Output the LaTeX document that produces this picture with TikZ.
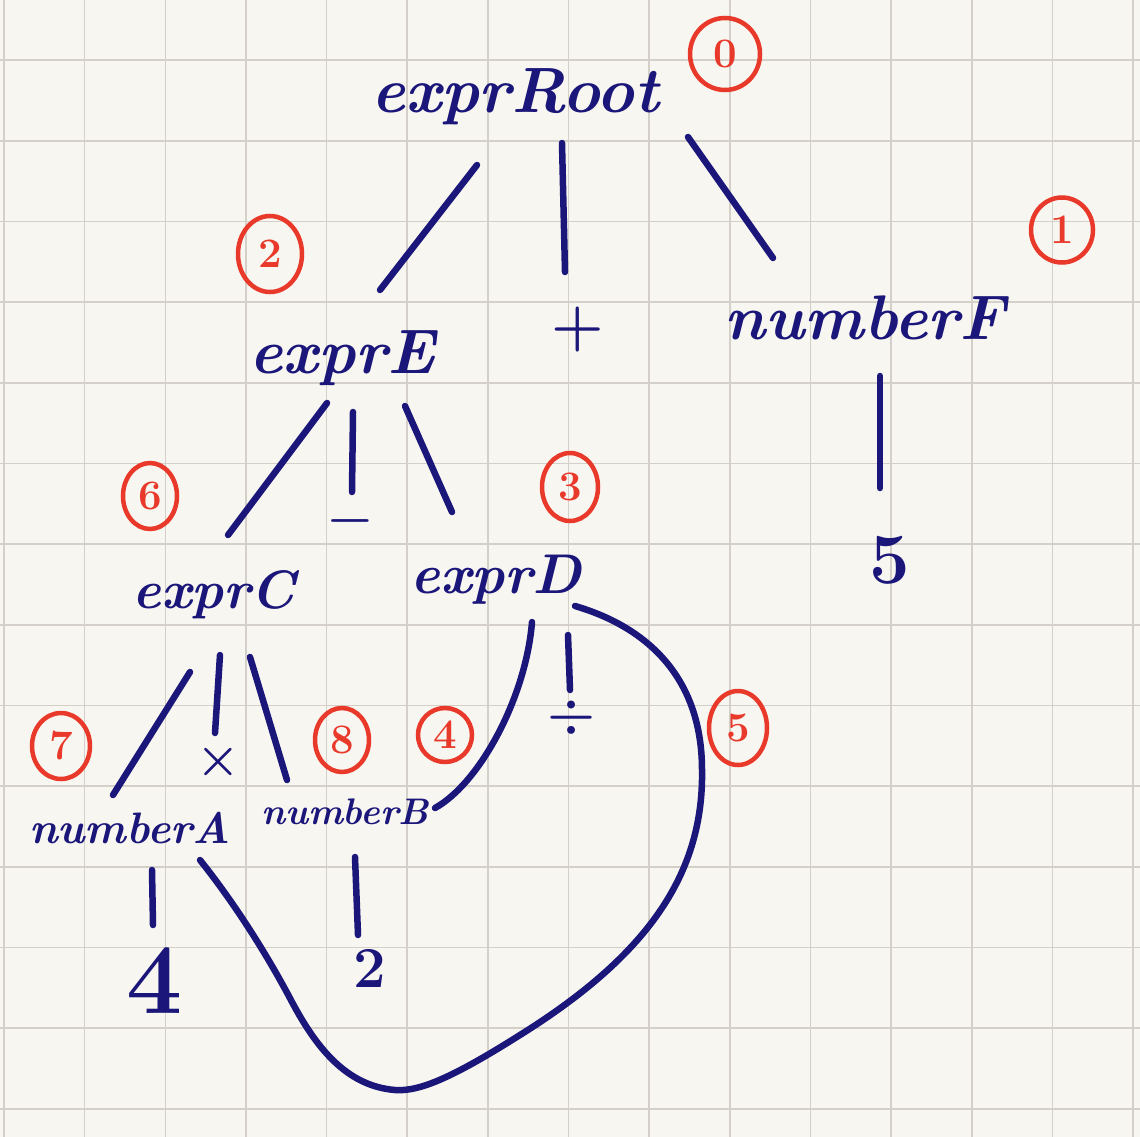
\documentclass[tikz,border=0pt]{standalone}
\usepackage{fontspec}
\usetikzlibrary{calc,shapes.geometric}
\definecolor{paper}{HTML}{F8F6F1}
\definecolor{gridc}{HTML}{D4D0C9}
\definecolor{ink}{HTML}{1B1679}
\definecolor{mark}{HTML}{E8392A}
\newcommand{\fsz}[1]{\fontsize{#1}{#1}\selectfont}
\tikzset{
  lbl/.style={text=ink, inner sep=0pt},
  stroke/.style={draw=ink, line width=6.5pt, line cap=round},
  bigloop/.style={draw=ink, line width=6.5pt, line cap=round, line join=round},
  badge/.style={ellipse, draw=mark, text=mark, line width=4.5pt, inner sep=0pt, font=\bfseries\fsz{42}},
  gridline/.style={draw=gridc, line width=1.6pt}
}
\begin{document}
\begin{tikzpicture}[x=1pt,y=-1pt]
\fill[paper] (0,0) rectangle (1140,1137);
\useasboundingbox (0,0) rectangle (1140,1137);
\foreach \i in {0,...,14} { \draw[gridline] ({4+80.65*\i},0) -- ({4+80.65*\i},1137); }
\foreach \j in {0,...,13} { \draw[gridline] (0,{60.3+80.65*\j}) -- (1140,{60.3+80.65*\j}); }

% labels
\node[lbl, font=\bfseries\itshape\fsz{64}] (root) at (515,97) {exprRoot};
\node[lbl, font=\bfseries\itshape\fsz{63}] (E) at (342,358) {exprE};
\node[lbl, font=\bfseries\fsz{60}] (plus) at (578,330) {+};
\node[lbl, font=\bfseries\itshape\fsz{63}] (F) at (865,318) {numberF};
\node[lbl, font=\bfseries\fsz{72}] (five) at (890,560) {5};
\node[lbl, font=\bfseries\itshape\fsz{54}] (C) at (214,595) {exprC};
\node[lbl, font=\bfseries\fsz{50}] (minus) at (350,527) {−};
\node[lbl, font=\bfseries\itshape\fsz{56}] (D) at (496,580) {exprD};
\node[lbl, font=\bfseries\fsz{50}] (times) at (218,762) {×};
\node[lbl, font=\bfseries\fsz{55}] (div) at (572,718) {÷};
\node[lbl, font=\bfseries\itshape\fsz{44}] (A) at (130,828) {numberA};
\node[lbl, font=\bfseries\itshape\fsz{37}] (B) at (345,812) {numberB};
\node[lbl, font=\bfseries\fsz{100}] (four) at (155,981) {4};
\node[lbl, font=\bfseries\fsz{58}] (two) at (370,968) {2};

% order badges
\node[badge, minimum width=70pt, minimum height=72pt] (b0) at (725,54) {0};
\node[badge, minimum width=62pt, minimum height=65pt] (b1) at (1062,230) {1};
\node[badge, minimum width=64pt, minimum height=76pt] (b2) at (270,254) {2};
\node[badge, minimum width=56pt, minimum height=68pt] (b3) at (570,487) {3};
\node[badge, minimum width=54pt, minimum height=54pt] (b4) at (445,735) {4};
\node[badge, minimum width=58pt, minimum height=74pt] (b5) at (738,728) {5};
\node[badge, minimum width=54pt, minimum height=66pt] (b6) at (150,496) {6};
\node[badge, minimum width=58pt, minimum height=66pt] (b7) at (61,746) {7};
\node[badge, minimum width=54pt, minimum height=64pt] (b8) at (342,740) {8};

% tree connectors
\draw[stroke] ($(root)+(-38,68)$) -- ($(E)+(38,-68)$);
\draw[stroke] ($(root)+(47,46)$) -- ($(plus)+(-13,-58)$);
\draw[stroke] ($(root)+(173,40)$) -- ($(F)+(-92,-60)$);
\draw[stroke] ($(F)+(15,58)$) -- ($(five)+(-10,-72)$);
\draw[stroke] ($(E)+(-15,45)$) -- ($(C)+(14,-60)$);
\draw[stroke] ($(E)+(11,54)$) -- ($(minus)+(2,-35)$);
\draw[stroke] ($(E)+(63,48)$) -- ($(D)+(-44,-68)$);
\draw[stroke] ($(C)+(-24,77)$) -- ($(A)+(-17,-33)$);
\draw[stroke] ($(C)+(6,60)$) -- ($(times)+(-3,-29)$);
\draw[stroke] ($(C)+(36,62)$) -- ($(B)+(-58,-32)$);
\draw[stroke] ($(D)+(72,55)$) -- ($(div)+(-2,-28)$);
\draw[stroke] ($(A)+(22,42)$) -- ($(four)+(-2,-56)$);
\draw[stroke] ($(B)+(10,45)$) -- ($(two)+(-12,-33)$);
% curved connectors
\draw[stroke] ($(D)+(36,42)$) .. controls +(-6,75) and +(45,-25) .. ($(B)+(90,-4)$);
\draw[bigloop] ($(D)+(79,26)$) .. controls (650,628) and (702,680) .. (702,770)
  .. controls (704,880) and (640,960) .. (520,1035)
  .. controls (455,1076) and (420,1092) .. (395,1090)
  .. controls (345,1086) and (315,1045) .. (292,1002)
  .. controls (262,945) and (228,895) .. ($(A)+(70,32)$);
\end{tikzpicture}
\end{document}
